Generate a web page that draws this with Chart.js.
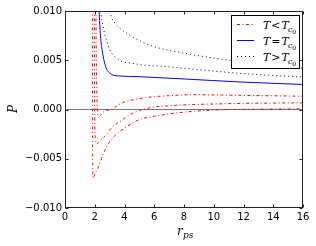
<!DOCTYPE html>
<html>
<head>
<meta charset="utf-8">
<script src="https://cdn.jsdelivr.net/npm/chart.js@4"></script>
<style>
  body { margin: 0; background: #fff; }
  canvas { display: block; }
</style>
</head>
<body>
<canvas id="chart" width="316" height="246"></canvas>
<script>
// x ticks / y ticks
const xTicks = [0, 2, 4, 6, 8, 10, 12, 14, 16];
const yTicks = [-0.01, -0.005, 0, 0.005, 0.01];

// T < Tc0 (three isotherms)
const rLowA = [1.84, 1.85, 1.86, 1.88, 1.95, 2.05, 2.23, 2.53, 2.91, 3.42, 4.03, 5.0, 6.0, 7.05, 8.5, 10.4, 12, 14, 16];
const pLowA = [0.012, 0.003, -0.004, -0.0070, -0.0068, -0.0064, -0.00586, -0.00467, -0.00348, -0.00257, -0.00186, -0.00102, -0.0007, -0.00044, -0.0002, -0.00003, 0.00002, 0.00005, 0.00007];
const rLowB = [1.96, 1.98, 2.0, 2.05, 2.13, 2.4, 2.68, 3.17, 3.8, 4.4, 5.0, 5.9, 7.0, 8.2, 10, 12, 14, 16];
const pLowB = [0.012, 0.004, -0.001, -0.003, -0.00348, -0.0031, -0.00274, -0.0018, -0.00112, -0.0005, -0.0001, 0.00023, 0.00038, 0.00048, 0.00056, 0.00062, 0.00065, 0.00068];
const rLowC = [2.07, 2.1, 2.15, 2.22, 2.3, 2.57, 3.24, 3.8, 5.0, 6.0, 7.0, 8.4, 10, 12, 14, 16];
const pLowC = [0.012, 0.006, 0.001, -0.0006, -0.0007, -0.00027, 0.0001, 0.00065, 0.0011, 0.0013, 0.0014, 0.0015, 0.00148, 0.00143, 0.00139, 0.00135];

// T = Tc0
const rCrit = [2.22, 2.3, 2.4, 2.5, 2.65, 2.8, 3.0, 3.25, 3.7, 5, 8, 11.7, 16];
const pCrit = [0.012, 0.0097, 0.0072, 0.006, 0.0048, 0.0041, 0.0037, 0.00348, 0.0034, 0.00333, 0.0031, 0.0028, 0.00254];

// T > Tc0 (two isotherms)
const rHighA = [2.35, 2.42, 2.55, 2.7, 2.9, 3.1, 3.4, 3.8, 4.5, 5.3, 6.4, 7.9, 10, 12.4, 16];
const pHighA = [0.0112, 0.0097, 0.0085, 0.0075, 0.0065, 0.0058, 0.0053, 0.0049, 0.0047, 0.0045, 0.0044, 0.0042, 0.0039, 0.0036, 0.0033];
const rHighB = [2.98, 3.07, 3.3, 3.74, 4.4, 5.75, 7.9, 11, 13, 16];
const pHighB = [0.0108, 0.0097, 0.0089, 0.0082, 0.0075, 0.0065, 0.00575, 0.005, 0.0046, 0.0042];

const pts = (xs, ys) => xs.map((x, i) => ({ x: x, y: ys[i] }));

const red = 'rgb(255,0,0)';
const redDash = [3, 2.5, 1, 2.5];
const dotDash = [1, 3];

function redLine(xs, ys) {
  return { data: pts(xs, ys), borderColor: red, borderWidth: 1, borderDash: redDash,
           pointRadius: 0, cubicInterpolationMode: 'monotone' };
}
function dotLine(xs, ys) {
  return { data: pts(xs, ys), borderColor: '#000', borderWidth: 1, borderDash: dotDash,
           pointRadius: 0, cubicInterpolationMode: 'monotone' };
}

const sansFont = { family: 'DejaVu Sans', size: 10 };

function mathT(ctx, x, y, rel) {
  ctx.fillStyle = '#000';
  ctx.textBaseline = 'alphabetic';
  ctx.textAlign = 'left';
  ctx.font = 'italic 11px "DejaVu Serif"';
  ctx.fillText('T', x, y); x += ctx.measureText('T').width + 1;
  ctx.font = '11px "DejaVu Serif"';
  ctx.fillText(rel, x, y); x += ctx.measureText(rel).width + 1;
  ctx.font = 'italic 11px "DejaVu Serif"';
  ctx.fillText('T', x, y); x += ctx.measureText('T').width - 1;
  ctx.font = 'italic 8px "DejaVu Serif"';
  ctx.fillText('c', x, y + 3); x += ctx.measureText('c').width;
  ctx.font = '6px "DejaVu Serif"';
  ctx.fillText('0', x, y + 5);
}

const decor = {
  id: 'decor',
  afterDatasetsDraw(chart) {
    const c = chart.ctx, a = chart.chartArea;
    const sx = chart.scales.x, sy = chart.scales.y;
    const L = Math.round(a.left) + 0.5, R = Math.round(a.right) - 0.5;
    const T = Math.round(a.top) + 0.5, B = Math.round(a.bottom) - 0.5;
    c.save();
    c.strokeStyle = '#222';
    c.lineWidth = 1;
    c.setLineDash([]);
    c.beginPath();
    sx.ticks.forEach(t => {
      const px = Math.round(sx.getPixelForValue(t.value)) + 0.5;
      c.moveTo(px, B); c.lineTo(px, B - 3);
      c.moveTo(px, T); c.lineTo(px, T + 3);
    });
    sy.ticks.forEach(t => {
      const py = Math.round(sy.getPixelForValue(t.value)) + 0.5;
      c.moveTo(L, py); c.lineTo(L + 3, py);
      c.moveTo(R, py); c.lineTo(R - 3, py);
    });
    c.stroke();
    c.strokeRect(L, T, R - L, B - T);

    // legend
    const bx = 231.5, by = 15.5, bw = 68, bh = 53;
    c.fillStyle = '#fff';
    c.fillRect(bx, by, bw, bh);
    c.strokeStyle = '#000';
    c.strokeRect(bx, by, bw, bh);
    const rows = [
      { y: 24.5, color: red, dash: redDash, w: 1, rel: '<' },
      { y: 40.5, color: '#0000ff', dash: [], w: 1, rel: '=' },
      { y: 56.5, color: '#000', dash: dotDash, w: 1, rel: '>' }
    ];
    rows.forEach(r => {
      c.strokeStyle = r.color;
      c.lineWidth = r.w;
      c.setLineDash(r.dash);
      c.beginPath();
      c.moveTo(237, r.y); c.lineTo(254, r.y);
      c.stroke();
      c.setLineDash([]);
      mathT(c, 263, r.y + 4, r.rel);
    });

    // axis titles
    c.fillStyle = '#000';
    c.textBaseline = 'alphabetic';
    c.textAlign = 'left';
    c.font = 'italic 12px "DejaVu Serif"';
    c.fillText('r', 177, 235);
    c.font = 'italic 9px "DejaVu Serif"';
    c.fillText('ps', 183, 238);
    c.translate(17, 109);
    c.rotate(-Math.PI / 2);
    c.textAlign = 'center';
    c.font = 'italic 12px "DejaVu Serif"';
    c.fillText('P', 0, 0);
    c.restore();
  }
};

new Chart(document.getElementById('chart'), {
  type: 'line',
  data: {
    datasets: [
      redLine(rLowA, pLowA),
      redLine(rLowB, pLowB),
      redLine(rLowC, pLowC),
      { data: pts(rCrit, pCrit), borderColor: '#0000ff', borderWidth: 1,
        pointRadius: 0, cubicInterpolationMode: 'monotone' },
      dotLine(rHighA, pHighA),
      dotLine(rHighB, pHighB)
    ]
  },
  options: {
    responsive: false,
    animation: false,
    layout: { padding: { left: 0, top: 11, right: 13, bottom: 0 } },
    plugins: { legend: { display: false }, tooltip: { enabled: false } },
    scales: {
      x: {
        type: 'linear', min: 0, max: 16,
        afterBuildTicks: s => { s.ticks = xTicks.map(v => ({ value: v })); },
        ticks: { font: sansFont, color: '#000', padding: 3, maxRotation: 0 },
        grid: { display: false, drawTicks: false },
        border: { display: false },
        afterFit: s => { s.height = 38; }
      },
      y: {
        min: -0.01, max: 0.01,
        afterBuildTicks: s => { s.ticks = yTicks.map(v => ({ value: v })); },
        ticks: {
          font: sansFont, color: '#000', padding: 3,
          callback: v => (v < 0 ? '\u2212' : '') + Math.abs(v).toFixed(3)
        },
        grid: {
          drawTicks: false,
          color: c => (c.tick && c.tick.value === 0 ? '#777' : 'rgba(0,0,0,0)')
        },
        border: { display: false },
        afterFit: s => { s.width = 65; }
      }
    }
  },
  plugins: [decor]
});
</script>
</body>
</html>
